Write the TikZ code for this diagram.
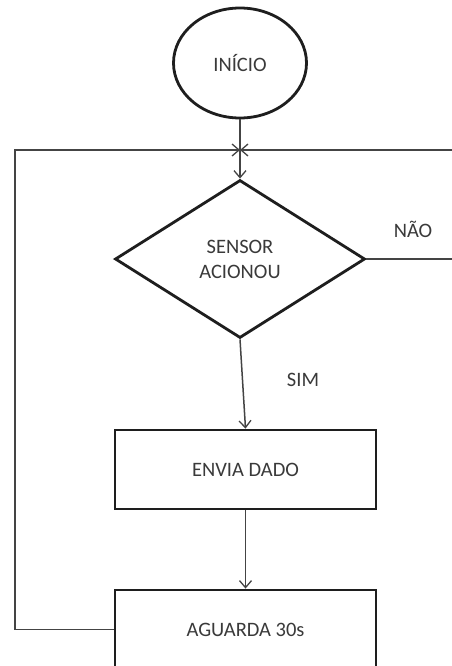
\documentclass[tikz,border=0pt]{standalone}
\usepackage{fontspec}
\setmainfont{Carlito}
\usetikzlibrary{shapes.geometric,arrows.meta}
\definecolor{inkline}{HTML}{1E1E1E}
\definecolor{wire}{HTML}{444444}
\definecolor{label}{HTML}{3A3A3A}
\tikzset{
  shapeline/.style={draw=inkline, line width=2.8pt, text=label, font=\fontsize{20.5}{25}\selectfont, inner sep=0pt},
  termbox/.style={shapeline, ellipse, minimum width=133pt, minimum height=110pt},
  decbox/.style={shapeline, diamond, aspect=1.582, minimum width=250pt, minimum height=158pt, align=center},
  procbox/.style={shapeline, rectangle, minimum width=261pt, minimum height=79pt},
  flow/.style={draw=wire, line width=1.5pt, -{Straight Barb[length=7pt,width=12pt,line width=1.3pt]}},
  plain/.style={draw=wire, line width=1.5pt},
  tag/.style={text=label, font=\fontsize{20.5}{25}\selectfont, inner sep=0pt}
}
\begin{document}
\begin{tikzpicture}[x=1pt,y=-1pt]
  \useasboundingbox (0,0) rectangle (452,666);
  \clip (0,0) rectangle (452,666);
  \fill[white] (0,0) rectangle (452,666);

  % blocks
  \node[termbox] (start) at (240,63) {INÍCIO};
  \coordinate (join) at (240,150);
  \node[decbox] (dec) at (240,259) {SENSOR\\ACIONOU};
  \node[procbox] (send) at (245.5,469.5) {ENVIA DADO};
  \node[procbox] (wait) at (245.5,629.5) {AGUARDA 30s};

  % labels
  \node[tag] (no) at (413,229) {NÃO};
  \node[tag] (yes) at (303,380) {SIM};

  % loop corners
  \coordinate (lb) at (15,629.5);
  \coordinate (lt) at (15,150);
  \coordinate (rb) at (470,259);
  \coordinate (rt) at (470,150);

  % connectors
  \draw[plain] (start.south) -- (join);
  \draw[flow] (join) -- (dec.north);
  \draw[flow] (dec.south) -- (send.north);
  \draw[flow] (send.south) -- (wait.north);
  \draw[flow] (wait.west) -- (lb) -- (lt) -- (join);
  \draw[flow] (dec.east) -- (rb) -- (rt) -- (join);
\end{tikzpicture}
\end{document}
